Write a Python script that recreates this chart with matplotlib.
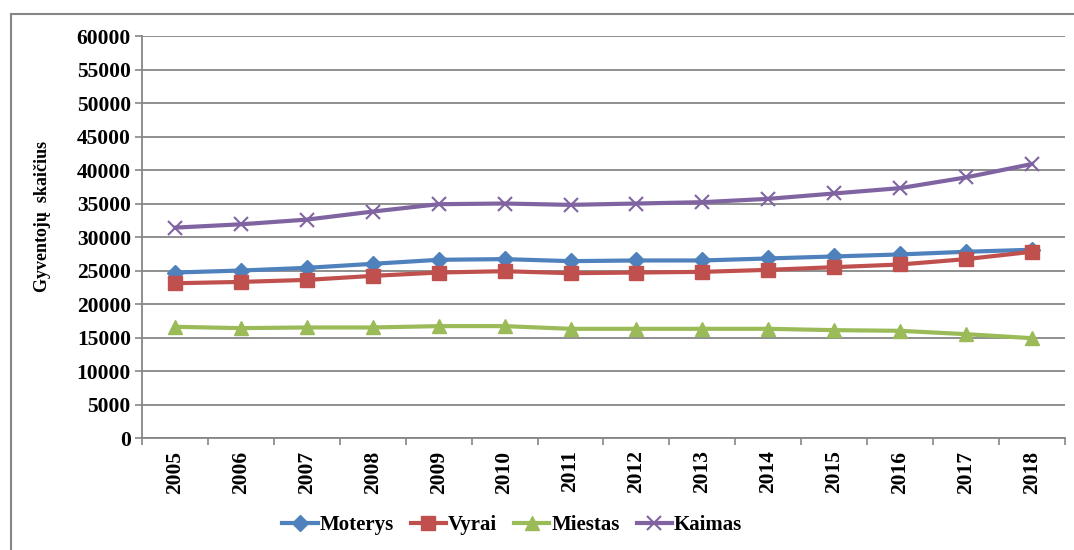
import matplotlib
matplotlib.use("Agg")
import matplotlib.pyplot as plt
import numpy as np

plt.rcParams.update({
    "font.family": ["Liberation Serif", "DejaVu Serif"],
    "font.weight": "bold",
})

# ── Duomenys ────────────────────────────────────────────────────────────────
metai = ["2005", "2006", "2007", "2008", "2009", "2010", "2011",
         "2012", "2013", "2014", "2015", "2016", "2017", "2018"]

moterys = [24700, 25000, 25400, 26000, 26600, 26700, 26400,
           26500, 26500, 26800, 27100, 27400, 27800, 28100]
vyrai   = [23100, 23300, 23600, 24200, 24700, 24900, 24600,
           24700, 24800, 25100, 25500, 25900, 26700, 27800]
miestas = [16600, 16400, 16500, 16500, 16700, 16700, 16300,
           16300, 16300, 16300, 16100, 16000, 15500, 14900]
kaimas  = [31400, 31900, 32600, 33800, 34900, 35000, 34800,
           35000, 35200, 35700, 36500, 37300, 38900, 40900]

MELYNA  = "#4F81BD"
RAUDONA = "#C0504D"
ZALIA   = "#9BBB59"
VIOLET  = "#8064A2"
PILKA   = "#868686"

fig = plt.figure(figsize=(10.74, 5.5), dpi=100)
ax = fig.add_axes([0.1322, 0.2036, 0.8594, 0.7309])

x = np.arange(len(metai))
ax.plot(x, moterys, color=MELYNA, lw=3, marker="D", ms=8, label="Moterys", zorder=3)
ax.plot(x, vyrai, color=RAUDONA, lw=3, marker="s", ms=10, label="Vyrai", zorder=3)
ax.plot(x, miestas, color=ZALIA, lw=3, marker="^", ms=10, label="Miestas", zorder=3)
ax.plot(x, kaimas, color=VIOLET, lw=3, marker="x", ms=10, mew=1.5, label="Kaimas", zorder=3)

ax.set_xlim(-0.5, len(metai) - 0.5)
ax.set_ylim(0, 60000)
ax.set_yticks(np.arange(0, 60001, 5000))
ax.set_yticklabels([str(v) for v in range(0, 60001, 5000)], fontsize=15.5, fontweight="bold")
ax.set_xticks(x)
ax.set_xticklabels(metai, rotation=90, fontsize=15.5, fontweight="bold")
ax.set_xticks(np.arange(-0.5, len(metai)), minor=True)
ax.tick_params(axis="x", which="major", length=0, pad=9)
ax.tick_params(axis="x", which="minor", length=5, color=PILKA, width=1.2)
ax.tick_params(axis="y", length=5, color=PILKA, width=1.2, pad=3)

ax.grid(axis="y", color=PILKA, lw=1.3)
ax.set_axisbelow(True)
for s in ["top", "right"]:
    ax.spines[s].set_visible(False)
for s in ["left", "bottom"]:
    ax.spines[s].set_color(PILKA)
    ax.spines[s].set_linewidth(1.3)

ax.set_ylabel("Gyventojų  skaičius", fontsize=13, fontweight="bold")
ax.yaxis.set_label_coords(-0.099, 0.55)

ax.legend(loc="center", bbox_to_anchor=(0.477, 0.045), bbox_transform=fig.transFigure,
          ncol=4, frameon=False, handlelength=1.7, handletextpad=0.1,
          columnspacing=0.8, prop={"weight": "bold", "size": 15})

# rėmelis aplink paveikslą
fig.patches.append(plt.Rectangle((11 / 1074, -0.1), 1.2, 1.1 - 14 / 550, transform=fig.transFigure,
                                 fill=False, edgecolor=PILKA, lw=1.5))

fig.savefig("out.png", dpi=100)
